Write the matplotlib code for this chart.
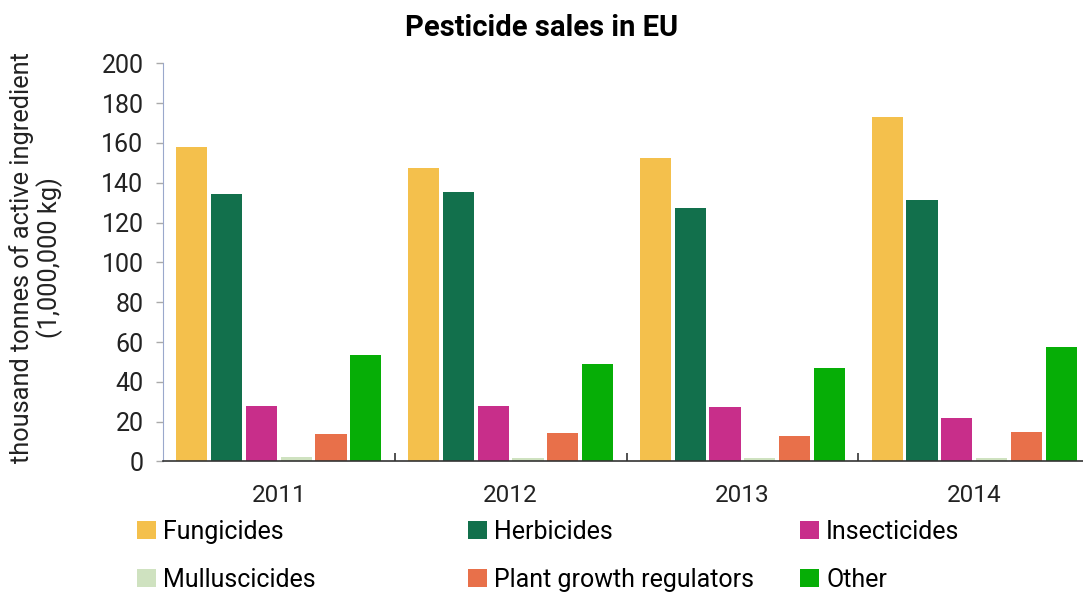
import matplotlib.pyplot as plt
import numpy as np

plt.rcParams['font.family'] = ['Roboto', 'DejaVu Sans']

years = ['2011', '2012', '2013', '2014']
categories = ['Fungicides', 'Herbicides', 'Insecticides',
              'Mulluscicides', 'Plant growth regulators', 'Other']
fungicides = [158, 147.5, 152.5, 173]
herbicides = [134.5, 135.5, 127.5, 131.5]
insecticides = [28, 28, 27.3, 21.8]
mulluscicides = [2.2, 1.5, 1.5, 1.5]
growth_regulators = [13.6, 14.4, 13, 14.6]
other = [53.3, 49, 47, 57.3]
colors = ['#F4C04C', '#12704C', '#C82E8A', '#CFE2C0', '#E8704A', '#06AE06']


def main():
    series = [fungicides, herbicides, insecticides,
              mulluscicides, growth_regulators, other]
    fig = plt.figure(figsize=(10.83, 5.94), dpi=100)
    ax = fig.add_axes([0.1505, 0.2231, 0.856, 0.6703])

    x = np.arange(len(years))
    handles = []
    for i, (vals, col) in enumerate(zip(series, colors)):
        b = ax.bar(x + (i - 2.5) * 0.15, vals, width=0.134, color=col)
        handles.append(b)

    ax.set_xlim(-0.5, 3.5)
    ax.set_ylim(0, 200)
    ax.set_yticks(range(0, 201, 20))
    ax.set_xticks(x)
    ax.set_xticklabels(years)
    ax.set_xticks([0.5, 1.5, 2.5], minor=True)
    ax.tick_params(axis='x', which='major', length=0, pad=16.5, labelsize=17.5,
                   labelcolor='#222222')
    ax.tick_params(axis='x', which='minor', direction='in', length=6,
                   width=1.2, color='#333333')
    ax.tick_params(axis='y', length=5, width=1, color='#aaaaaa',
                   pad=9, labelsize=18, labelcolor='#222222')

    for s in ['top', 'right']:
        ax.spines[s].set_visible(False)
    ax.spines['left'].set_color('#9aa8cc')
    ax.spines['bottom'].set_color('#333333')
    ax.spines['bottom'].set_linewidth(1.2)

    fig.text(0.5, 1 - 28 / 594, 'Pesticide sales in EU', ha='center',
             va='center', fontsize=21, fontweight='bold')
    fig.text(36 / 1083, 1 - 258 / 594,
             'thousand tonnes of active ingredient\n(1,000,000 kg)',
             rotation=90, ha='center', va='center', fontsize=18.3,
             color='#222222', linespacing=1.1)

    col_x = [137, 468, 800]
    for c in range(3):
        hs = [handles[c], handles[c + 3]]
        labs = [categories[c], categories[c + 3]]
        fig.legend(hs, labs, loc='upper left',
                   bbox_to_anchor=(col_x[c] / 1083, 1 - 520 / 594),
                   frameon=False, borderpad=0, borderaxespad=0,
                   handlelength=0.75, handleheight=0.75, handletextpad=0.3,
                   labelspacing=0.95, fontsize=18)

    fig.savefig('out.png', dpi=100)


if __name__ == "__main__":
    main()
